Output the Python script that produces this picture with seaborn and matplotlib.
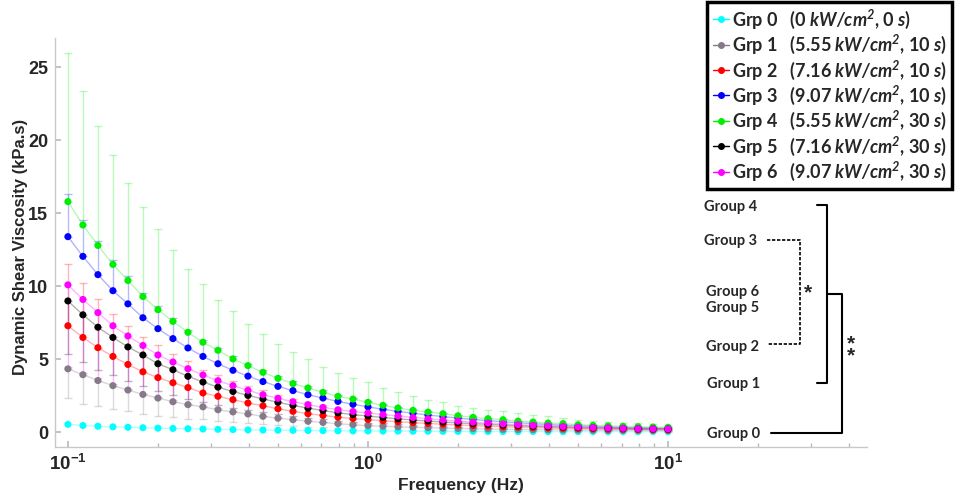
import numpy as np
import pandas as pd
import matplotlib
matplotlib.use("Agg")
import matplotlib.pyplot as plt
from matplotlib.lines import Line2D
import seaborn as sns

# 41 frequencies, 20 per decade, 0.1 .. 10 Hz
freq = np.logspace(-1, 1, 41)

grp0 = [0.55, 0.47, 0.42, 0.38, 0.35, 0.32, 0.29, 0.27, 0.25, 0.23, 0.21, 0.19, 0.17, 0.16,
        0.15, 0.14, 0.13, 0.12, 0.11, 0.10, 0.10, 0.09, 0.09, 0.08, 0.08, 0.07, 0.07, 0.07,
        0.06, 0.06, 0.06, 0.06, 0.05, 0.05, 0.05, 0.05, 0.05, 0.05, 0.05, 0.05, 0.05]
grp1 = [4.35, 3.95, 3.55, 3.2, 2.9, 2.6, 2.35, 2.1, 1.9, 1.75, 1.55, 1.4, 1.26, 1.1,
        0.97, 0.87, 0.76, 0.68, 0.6, 0.52, 0.46, 0.42, 0.38, 0.35, 0.32, 0.29, 0.27, 0.25,
        0.23, 0.21, 0.2, 0.19, 0.18, 0.17, 0.16, 0.15, 0.14, 0.14, 0.13, 0.13, 0.12]
grp2 = [7.3, 6.5, 5.8, 5.2, 4.65, 4.15, 3.75, 3.4, 3.07, 2.7, 2.47, 2.24, 2.01, 1.82,
        1.62, 1.44, 1.28, 1.16, 1.04, 0.95, 0.88, 0.8, 0.73, 0.67, 0.61, 0.56, 0.51, 0.47,
        0.43, 0.39, 0.36, 0.33, 0.3, 0.28, 0.26, 0.24, 0.22, 0.21, 0.2, 0.19, 0.18]
grp3 = [13.4, 12.05, 10.8, 9.7, 8.8, 7.85, 7.1, 6.42, 5.78, 5.2, 4.7, 4.25, 3.85, 3.48,
        3.15, 2.86, 2.58, 2.35, 2.12, 1.92, 1.75, 1.58, 1.44, 1.31, 1.19, 1.08, 0.98, 0.89,
        0.8, 0.73, 0.66, 0.6, 0.54, 0.49, 0.45, 0.41, 0.37, 0.34, 0.32, 0.3, 0.28]
grp4 = [15.8, 14.2, 12.8, 11.5, 10.4, 9.3, 8.4, 7.6, 6.85, 6.17, 5.62, 5.03, 4.57, 4.11,
        3.7, 3.34, 3.04, 2.74, 2.47, 2.28, 2.06, 1.85, 1.67, 1.51, 1.39, 1.28, 1.14, 1.03,
        0.94, 0.87, 0.77, 0.71, 0.64, 0.6, 0.52, 0.48, 0.45, 0.42, 0.39, 0.37, 0.35]
grp5 = [9.0, 8.05, 7.2, 6.5, 5.85, 5.3, 4.7, 4.29, 3.84, 3.45, 3.1, 2.8, 2.53, 2.29,
        2.06, 1.85, 1.66, 1.5, 1.34, 1.22, 1.12, 1.02, 0.93, 0.85, 0.78, 0.71, 0.65, 0.6,
        0.55, 0.5, 0.46, 0.42, 0.39, 0.36, 0.33, 0.31, 0.29, 0.27, 0.25, 0.24, 0.23]
grp6 = [10.1, 9.1, 8.2, 7.3, 6.6, 5.95, 5.3, 4.82, 4.36, 3.93, 3.54, 3.2, 2.88, 2.58,
        2.33, 2.1, 1.9, 1.71, 1.55, 1.43, 1.33, 1.22, 1.12, 1.02, 0.93, 0.85, 0.77, 0.7,
        0.64, 0.58, 0.53, 0.48, 0.44, 0.4, 0.36, 0.33, 0.3, 0.28, 0.26, 0.25, 0.24]

# one-sided error bars (upper for 2,3,4 and lower for 1,5,6)
err1_lo = [2.0, 2.0, 1.77, 1.58, 1.46, 1.34, 1.2, 1.02, 0.95, 0.86, 0.78, 0.7, 0.63, 0.55,
           0.48, 0.43, 0.38, 0.33, 0.3, 0.26, 0.24, 0.22, 0.2, 0.18, 0.16, 0.15, 0.14, 0.13,
           0.12, 0.11, 0.1, 0.1, 0.09, 0.09, 0.08, 0.08, 0.07, 0.07, 0.07, 0.06, 0.06]
err2_hi = [4.2, 3.7, 3.3, 2.9, 2.6, 2.4, 2.2, 2.0, 1.8, 1.6, 1.45, 1.3, 1.18, 1.06,
           0.95, 0.86, 0.77, 0.7, 0.63, 0.57, 0.52, 0.47, 0.43, 0.39, 0.35, 0.32, 0.29, 0.27,
           0.24, 0.22, 0.2, 0.18, 0.17, 0.15, 0.14, 0.13, 0.12, 0.11, 0.1, 0.1, 0.09]
err3_hi = [2.9, 2.5, 2.3, 2.1, 1.9, 1.7, 1.55, 1.4, 1.25, 1.15, 1.05, 0.95, 0.85, 0.78,
           0.7, 0.63, 0.57, 0.52, 0.47, 0.43, 0.39, 0.35, 0.32, 0.29, 0.26, 0.24, 0.22, 0.2,
           0.18, 0.16, 0.15, 0.13, 0.12, 0.11, 0.1, 0.09, 0.08, 0.08, 0.07, 0.07, 0.06]
err4_hi = [10.2, 9.2, 8.2, 7.5, 6.7, 6.1, 5.5, 4.9, 4.35, 4.0, 3.47, 3.26, 2.88, 2.65,
           2.38, 2.16, 1.99, 1.74, 1.6, 1.45, 1.37, 1.2, 1.1, 0.96, 0.85, 0.77, 0.68, 0.66,
           0.62, 0.57, 0.55, 0.5, 0.46, 0.36, 0.34, 0.3, 0.27, 0.24, 0.22, 0.2, 0.18]
err5_lo = [3.6, 3.2, 2.9, 2.6, 2.3, 2.1, 1.9, 1.7, 1.55, 1.4, 1.25, 1.15, 1.0, 0.92,
           0.82, 0.74, 0.67, 0.6, 0.54, 0.49, 0.45, 0.41, 0.37, 0.34, 0.31, 0.28, 0.26, 0.24,
           0.22, 0.2, 0.18, 0.17, 0.16, 0.15, 0.14, 0.12, 0.12, 0.11, 0.1, 0.1, 0.09]
err6_lo = [5.6, 5.0, 4.5, 4.0, 3.6, 3.3, 2.9, 2.6, 2.4, 2.15, 1.9, 1.75, 1.6, 1.43,
           1.3, 1.18, 1.07, 0.99, 0.88, 0.8, 0.74, 0.67, 0.62, 0.56, 0.51, 0.47, 0.42, 0.39,
           0.35, 0.32, 0.29, 0.26, 0.24, 0.22, 0.2, 0.18, 0.17, 0.15, 0.14, 0.14, 0.13]

groups = ["Grp 0", "Grp 1", "Grp 2", "Grp 3", "Grp 4", "Grp 5", "Grp 6"]
intensity = ["0", "5.55", "7.16", "9.07", "5.55", "7.16", "9.07"]
duration = ["0", "10", "10", "10", "30", "30", "30"]
colors = ["#00ffff", "#857a87", "#ff0000", "#0000ff", "#00ee00", "#000000", "#ff00ff"]
means = [grp0, grp1, grp2, grp3, grp4, grp5, grp6]
errs = [None, ("lo", err1_lo), ("hi", err2_hi), ("hi", err3_hi), ("hi", err4_hi),
        ("lo", err5_lo), ("lo", err6_lo)]

rows = []
for g, m in zip(groups, means):
    for f, v in zip(freq, m):
        rows.append((g, f, v))
df = pd.DataFrame(rows, columns=["grp", "freq", "visc"])

sns.set_theme(style="white")
plt.rcParams["font.family"] = ["Liberation Sans", "DejaVu Sans"]
plt.rcParams["mathtext.fontset"] = "custom"
plt.rcParams["mathtext.rm"] = "Liberation Sans"
plt.rcParams["mathtext.bf"] = "Liberation Sans:bold"
plt.rcParams["mathtext.bfit"] = "Lato:italic:bold"

W, H = 955, 496
fig = plt.figure(figsize=(W / 100, H / 100), dpi=100)
ax = fig.add_axes([55 / W, 1 - 447 / H, 812 / W, 409 / H])

pal = dict(zip(groups, colors))
sns.lineplot(data=df, x="freq", y="visc", hue="grp", palette=pal, alpha=0.3,
             lw=1, legend=False, errorbar=None, ax=ax, zorder=2)
for m, e, c in zip(means, errs, colors):
    if e is None:
        continue
    zero = np.zeros(len(m))
    yerr = [e[1], zero] if e[0] == "lo" else [zero, e[1]]
    ax.errorbar(freq, m, yerr=yerr, fmt="none", ecolor=c, alpha=0.28,
                elinewidth=1, capsize=3, capthick=1, zorder=1.5)
sns.scatterplot(data=df, x="freq", y="visc", hue="grp", palette=pal, s=26,
                edgecolor="none", legend=False, ax=ax, zorder=3)

ax.set_xscale("log")
ax.set_xlim(10 ** -1.043, 10 ** 1.663)
ax.set_ylim(-1, 27)
ax.set_yticks([0, 5, 10, 15, 20, 25])
ax.set_yticklabels(["0", "5", "10", "15", "20", "25"], fontweight="bold", fontsize=13)
ax.set_xticks([0.1, 1, 10])
ax.set_xticklabels([r"$\mathbf{10^{-1}}$", r"$\mathbf{10^{0}}$", r"$\mathbf{10^{1}}$"],
                   fontsize=13.5)
ax.xaxis.set_minor_locator(matplotlib.ticker.LogLocator(base=10, subs=np.arange(2, 10)))
ax.xaxis.set_minor_formatter(matplotlib.ticker.NullFormatter())
ax.tick_params(axis="both", which="both", direction="in", color="#bbbbbb",
               bottom=True, left=True)
ax.tick_params(axis="both", which="major", length=4, pad=5)
ax.tick_params(axis="x", which="minor", length=3)
for s in ["top", "right"]:
    ax.spines[s].set_visible(False)
for s in ["left", "bottom"]:
    ax.spines[s].set_color("#c8c8c8")
    ax.spines[s].set_linewidth(1)
ax.set_xlabel("Frequency (Hz)", fontsize=12.5, fontweight="bold", labelpad=3)
ax.set_ylabel("Dynamic Shear Viscosity (kPa.s)", fontsize=12, fontweight="bold")
ax.yaxis.set_label_coords(-0.033, 0.49)

# legend
handles = [Line2D([], [], color=c, marker="o", markersize=4, lw=1) for c in colors]
labels = [f"{g}   ({p} $\\mathbfit{{kW/cm^2}}$, {d} $\\mathbfit{{s}}$)"
          for g, p, d in zip(groups, intensity, duration)]
leg = fig.legend(handles, labels, loc="upper right", bbox_to_anchor=(952 / W, 1 - 2 / H),
                 bbox_transform=fig.transFigure, frameon=True, fancybox=False,
                 framealpha=1, edgecolor="black", handlelength=0.9, handletextpad=0.15,
                 labelspacing=0.12, borderpad=0.3, borderaxespad=0,
                 prop={"family": "Lato", "weight": "bold", "size": 13})
leg.get_frame().set_linewidth(2.5)


# significance diagram on the right, in pixel positions
def fp(px, py):
    return px / W, 1 - py / H


for name, px, py in [("Group 4", 704, 207), ("Group 3", 704, 241), ("Group 6", 706, 292),
                     ("Group 5", 706, 308), ("Group 2", 706, 347), ("Group 1", 707, 384),
                     ("Group 0", 707, 434)]:
    fig.text(*fp(px, py), name, ha="left", va="center", family="Lato",
             fontweight="bold", fontsize=10.5)


def fline(pts, **kw):
    xs = [p[0] / W for p in pts]
    ys = [1 - p[1] / H for p in pts]
    fig.add_artist(Line2D(xs, ys, transform=fig.transFigure, color="black", **kw))


fline([(817, 205), (827, 205), (827, 383), (817, 383)], lw=1.5)
fline([(827, 294), (842, 294), (842, 433), (771, 433)], lw=1.5)
fline([(767, 240), (800, 240), (800, 344), (767, 344)], lw=1.2, ls=(0, (2, 1)))
fig.text(*fp(808, 293), "*", ha="center", va="center", fontsize=15, fontweight="bold")
fig.text(*fp(851, 350), "*\n*", ha="center", va="center", fontsize=15, fontweight="bold",
         linespacing=0.55)

fig.savefig("out.png", dpi=100)
